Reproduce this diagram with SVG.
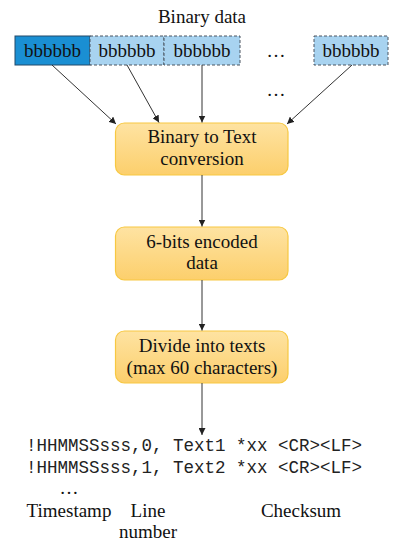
<svg xmlns="http://www.w3.org/2000/svg" width="401" height="550" viewBox="0 0 401 550">
<style>
.t{font-family:'Liberation Serif','DejaVu Serif',serif;font-size:19px;fill:#111;text-anchor:middle}
.m{font-family:'Liberation Mono','Courier New',monospace;font-size:17.5px;fill:#222}
.bin{stroke-width:1}
.dark{fill:#1a8fd3;stroke:#234a6b}
.light{fill:#a8d3f0;stroke:#4a5560;stroke-dasharray:3 2}
.proc{fill:url(#g);stroke:#f7c842;stroke-width:1.2}
.c{stroke:#333;stroke-width:1;fill:none;marker-end:url(#a)}
</style>
<defs>
<linearGradient id="g" x1="0" y1="0" x2="0" y2="1">
<stop offset="0" stop-color="#fee3a2"/>
<stop offset="1" stop-color="#fccf6c"/>
</linearGradient>
<marker id="a" viewBox="0 0 10 10" refX="10" refY="5" markerWidth="7" markerHeight="7" markerUnits="userSpaceOnUse" orient="auto">
<path d="M0,0 L10,5 L0,10 z" fill="#222"/>
</marker>
</defs>
<rect width="401" height="550" fill="#fff"/>
<text class="t" x="202" y="23">Binary data</text>
<g id="b1"><rect class="bin dark" x="15" y="36" width="75" height="29"/><text class="t" x="52.5" y="57">bbbbbb</text></g>
<g id="b2"><rect class="bin light" x="90" y="36" width="74" height="29"/><text class="t" x="127" y="57">bbbbbb</text></g>
<g id="b3"><rect class="bin light" x="164" y="36" width="76" height="29"/><text class="t" x="202" y="57">bbbbbb</text></g>
<g id="b4"><rect class="bin light" x="314" y="36" width="74" height="29"/><text class="t" x="351" y="57">bbbbbb</text></g>
<text class="t" x="276" y="57">…</text>
<text class="t" x="276" y="96">…</text>
<g id="n1"><rect class="proc" x="115.5" y="123" width="172.5" height="52" rx="9"/><text class="t" x="202" y="143">Binary to Text</text><text class="t" x="202" y="165">conversion</text></g>
<g id="n2"><rect class="proc" x="115.5" y="227" width="172.5" height="53" rx="9"/><text class="t" x="202" y="248">6-bits encoded</text><text class="t" x="202" y="269">data</text></g>
<g id="n3"><rect class="proc" x="115.5" y="331" width="172.5" height="52" rx="9"/><text class="t" x="202" y="352">Divide into texts</text><text class="t" x="202" y="374">(max 60 characters)</text></g>
<g id="connectors">
<line class="c" x1="52" y1="65" x2="116" y2="124"/>
<line class="c" x1="127" y1="65" x2="159" y2="122.5"/>
<line class="c" x1="202" y1="65" x2="202" y2="122.5"/>
<line class="c" x1="352" y1="65" x2="287" y2="124"/>
<line class="c" x1="202" y1="175" x2="202" y2="226.5"/>
<line class="c" x1="202" y1="280" x2="202" y2="330.5"/>
<line class="c" x1="202" y1="383" x2="202" y2="435"/>
</g>
<text class="m" x="26" y="451">!HHMMSSsss,0, Text1 *xx &lt;CR&gt;&lt;LF&gt;</text>
<text class="m" x="26" y="473">!HHMMSSsss,1, Text2 *xx &lt;CR&gt;&lt;LF&gt;</text>
<text class="t" x="69" y="494">…</text>
<text class="t" x="69" y="517">Timestamp</text>
<text class="t" x="148" y="517">Line</text>
<text class="t" x="148" y="538">number</text>
<text class="t" x="301" y="517">Checksum</text>
</svg>
